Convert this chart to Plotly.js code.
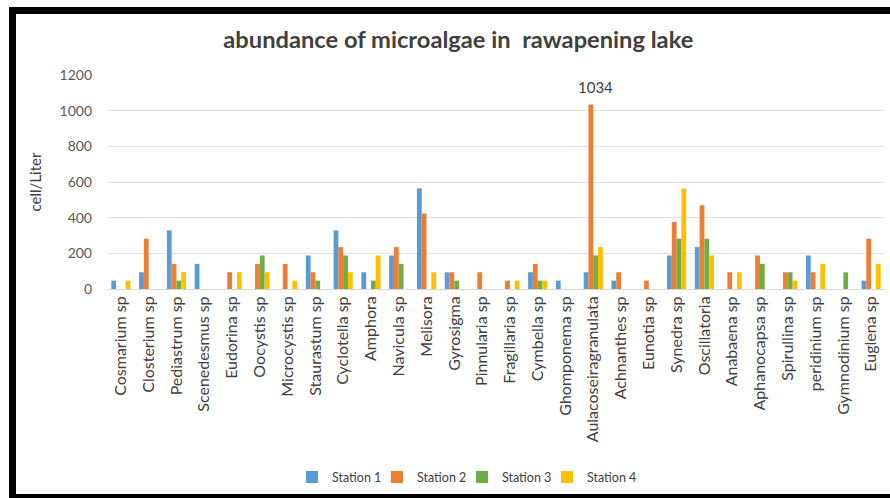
<!DOCTYPE html>
<html>
<head>
<meta charset="utf-8">
<script src="https://cdn.plot.ly/plotly-3.0.1.min.js"></script>
<style>
  html, body { margin: 0; padding: 0; background: #fff; }
  #wrap { position: relative; width: 890px; height: 498px; overflow: hidden; }
  #chart { width: 890px; height: 498px; }
  #frame { position: absolute; left: 9px; top: 7px; width: 900px; height: 500px;
           border-left: 7px solid #000; border-top: 7px solid #000;
           box-sizing: border-box; pointer-events: none; }
  #frameb { position: absolute; left: 9px; top: 494px; width: 900px; height: 4px; background: #000; pointer-events: none; }
</style>
</head>
<body>
<div id="wrap">
  <div id="chart"></div>
  <div id="frame"></div>
  <div id="frameb"></div>
</div>
<script>
const categories = ["Cosmarium sp", "Closterium sp", "Pediastrum sp", "Scenedesmus sp", "Eudorina sp",
  "Oocystis sp", "Microcystis sp", "Staurastum sp", "Cyclotella sp", "Amphora", "Navicula sp",
  "Melisora", "Gyrosigma", "Pinnularia sp", "Fragillaria sp", "Cymbella sp", "Ghomponema sp",
  "Aulacoseiragranulata", "Achnanthes sp", "Eunotia sp", "Synedra sp", "Oscillatoria",
  "Anabaena sp", "Aphanocapsa sp", "Spirullina sp", "peridinium sp", "Gymnodinium sp", "Euglena sp"];

const station1 = [47, 94, 329, 141, 0, 0, 0, 188, 329, 94, 188, 564, 94, 0, 0, 94, 47, 94, 47, 0, 188, 235, 0, 0, 0, 188, 0, 47];
const station2 = [0, 282, 141, 0, 94, 141, 141, 94, 235, 0, 235, 423, 94, 94, 47, 141, 0, 1034, 94, 47, 376, 470, 94, 188, 94, 94, 0, 282];
const station3 = [0, 0, 47, 0, 0, 188, 0, 47, 188, 47, 141, 0, 47, 0, 0, 47, 0, 188, 0, 0, 282, 282, 0, 141, 94, 0, 94, 0];
const station4 = [47, 0, 94, 0, 94, 94, 47, 0, 94, 188, 0, 94, 0, 0, 47, 47, 0, 235, 0, 0, 564, 188, 94, 0, 47, 141, 0, 141];

const seriesNames = ["Station 1", "Station 2", "Station 3", "Station 4"];
const seriesColors = ["#5B9BD5", "#ED7D31", "#70AD47", "#FFC000"];
const labelledIndex = 17; // Aulacoseiragranulata, Station 2

const font = "Lato, Carlito, Calibri, sans-serif";
const allSeries = [station1, station2, station3, station4];
const legendWidths = [40, 40, 40, 70];

const traces = allSeries.map((vals, i) => ({
  type: "bar",
  name: seriesNames[i],
  x: categories,
  y: vals,
  marker: { color: seriesColors[i] },
  legendwidth: legendWidths[i],
  hoverinfo: "x+y+name"
}));

const layout = {
  width: 890, height: 498,
  paper_bgcolor: "#fff", plot_bgcolor: "#fff",
  margin: { l: 107, r: 5, t: 75, b: 209 },
  barmode: "group",
  bargap: 0.31,
  bargroupgap: 0,
  title: {
    text: "<b>abundance of microalgae in  rawapening lake</b>",
    font: { family: font, size: 23.7, color: "#404040" },
    x: 0.515, xanchor: "center", y: 0.92, yanchor: "middle"
  },
  xaxis: {
    type: "category",
    tickangle: -90,
    tickfont: { family: font, size: 16, color: "#404040" },
    showgrid: false,
    showline: true, linecolor: "#D9D9D9", linewidth: 1,
    ticks: "", ticklen: 0,
    automargin: false
  },
  yaxis: {
    range: [0, 1200],
    dtick: 200,
    tickfont: { family: font, size: 14, color: "#595959" },
    gridcolor: "#E3E3E3", gridwidth: 1,
    zeroline: false,
    showline: false,
    ticks: "",
    ticklabelstandoff: 14,
    title: { text: "cell/Liter", font: { family: font, size: 15, color: "#404040" }, standoff: 14 },
    automargin: false
  },
  annotations: [{
    x: categories[labelledIndex],
    y: station2[labelledIndex],
    xref: "x", yref: "y",
    text: String(station2[labelledIndex]),
    showarrow: false,
    yanchor: "bottom",
    xshift: 2,
    yshift: 7,
    font: { family: font, size: 15, color: "#404040" }
  }],
  legend: {
    orientation: "h",
    x: 0.0, xanchor: "left",
    y: -0.88, yanchor: "middle",
    font: { family: font, size: 12.5, color: "#404040" },
    itemwidth: 30,
    entrywidthmode: "pixels",
    tracegroupgap: 0
  },
  showlegend: true
};

// place legend so the first swatch sits where the reference has it
layout.legend.x = (292 - 107) / (890 - 107 - 5);

Plotly.newPlot("chart", traces, layout, { displayModeBar: false, staticPlot: true });
</script>
</body>
</html>
